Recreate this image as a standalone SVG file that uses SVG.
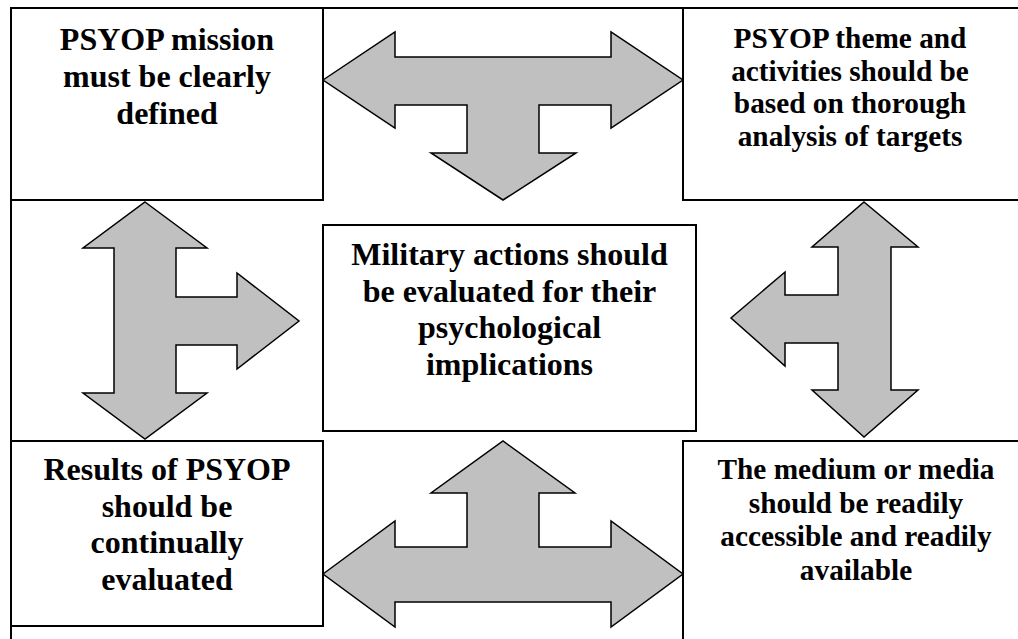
<svg xmlns="http://www.w3.org/2000/svg" width="1018" height="639" viewBox="0 0 1018 639">
  <style>
    .frame { fill: none; stroke: #000; stroke-width: 2; }
    .box { fill: #fff; stroke: #000; stroke-width: 2; }
    .arrow { fill: #c0c0c0; stroke: #000; stroke-width: 1.5; stroke-linejoin: miter; }
    .big { font-size: 32px; }
    .small { font-size: 29.3px; }
  </style>
  <rect width="1018" height="639" fill="#fff"/>

  <!-- outer frame -->
  <rect class="frame" x="11" y="8" width="1100" height="700"/>

  <g id="connectors">
    <!-- top: left/right with down branch -->
    <polygon class="arrow" points="323,80 395,32 395,57 611,57 611,32 683,80 611,128 611,105 539,105 539,153 576,153 503,200 431,153 467,153 467,105 395,105 395,128"/>
    <!-- bottom: left/right with up branch -->
    <polygon class="arrow" points="323,574 395,521 395,547 467,547 467,493 431,493 503,441 575,493 539,493 539,547 611,547 611,521 683,574 611,627 611,602 395,602 395,627"/>
    <!-- left: up/down with right branch -->
    <polygon class="arrow" points="145,202 207,248 176,248 176,297 237,297 237,273 299,321 237,369 237,345 176,345 176,393 207,393 145,439 83,393 114,393 114,248 83,248"/>
    <!-- right: up/down with left branch -->
    <polygon class="arrow" points="864,202 918,247 891,247 891,390 918,390 864,437 812,390 838,390 838,343 785,343 785,366 731,318 785,272 785,295 838,295 838,247 812,247"/>
  </g>

  <g font-family="Liberation Serif, Times New Roman, serif" font-weight="bold" text-anchor="middle" fill="#000">
    <g id="mission">
      <rect class="box" x="11" y="8" width="312" height="192"/>
      <text class="big" x="167" y="50">PSYOP mission</text>
      <text class="big" x="167" y="87">must be clearly</text>
      <text class="big" x="167" y="124">defined</text>
    </g>

    <g id="theme">
      <rect class="box" x="683" y="8" width="400" height="192"/>
      <text class="small" x="850" y="48">PSYOP theme and</text>
      <text class="small" x="850" y="80.5">activities should be</text>
      <text class="small" x="850" y="113">based on thorough</text>
      <text class="small" x="850" y="145.5">analysis of targets</text>
    </g>

    <g id="military">
      <rect class="box" x="323" y="225" width="373" height="206"/>
      <text class="big" x="509.5" y="265">Military actions should</text>
      <text class="big" x="509.5" y="301.7">be evaluated for their</text>
      <text class="big" x="509.5" y="338.4">psychological</text>
      <text class="big" x="509.5" y="375">implications</text>
    </g>

    <g id="results">
      <rect class="box" x="11" y="441" width="312" height="185"/>
      <text class="big" x="167" y="480">Results of PSYOP</text>
      <text class="big" x="167" y="517">should be</text>
      <text class="big" x="167" y="553">continually</text>
      <text class="big" x="167" y="590">evaluated</text>
    </g>

    <g id="media">
      <rect class="box" x="683" y="441" width="400" height="300"/>
      <text class="small" x="856" y="479">The medium or media</text>
      <text class="small" x="856" y="512.5">should be readily</text>
      <text class="small" x="856" y="546">accessible and readily</text>
      <text class="small" x="856" y="579.5">available</text>
    </g>
  </g>
</svg>
